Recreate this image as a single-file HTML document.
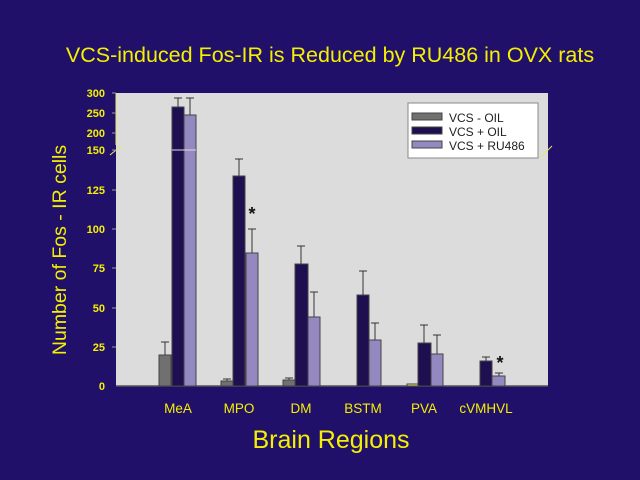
<!DOCTYPE html>
<html><head><meta charset="utf-8"><style>
html,body{margin:0;padding:0;background:#20106a;}
svg{display:block}
text{font-family:"Liberation Sans",sans-serif}
</style></head><body>
<svg width="640" height="480" viewBox="0 0 640 480" xmlns="http://www.w3.org/2000/svg">
<rect width="640" height="480" fill="#20106a"/>
<text x="330" y="62" fill="#f5f000" font-size="21.5" text-anchor="middle">VCS-induced Fos-IR is Reduced by RU486 in OVX rats</text>
<rect x="116" y="93" width="432" height="293" fill="#dcdcdc"/>
<line x1="116" y1="93" x2="116" y2="145" stroke="#e8e860" stroke-width="1"/>
<line x1="110" y1="155" x2="121" y2="146" stroke="#e8e860"/>
<line x1="541" y1="157" x2="552" y2="146" stroke="#e8e860"/>
<line x1="116" y1="386" x2="548" y2="386" stroke="#555" stroke-width="1.5"/>
<g stroke="#999" stroke-width="1">
<line x1="112" y1="93" x2="116" y2="93"/><line x1="112" y1="113" x2="116" y2="113"/><line x1="112" y1="133" x2="116" y2="133"/><line x1="112" y1="150" x2="116" y2="150"/>
<line x1="112" y1="190" x2="116" y2="190"/><line x1="112" y1="229" x2="116" y2="229"/><line x1="112" y1="268" x2="116" y2="268"/><line x1="112" y1="308" x2="116" y2="308"/><line x1="112" y1="347" x2="116" y2="347"/>
</g>
<g fill="#f5f000" font-size="11" font-weight="bold" text-anchor="end">
<text x="105" y="97">300</text><text x="105" y="117">250</text><text x="105" y="137">200</text><text x="105" y="154">150</text>
<text x="105" y="194">125</text><text x="105" y="233">100</text><text x="105" y="272">75</text><text x="105" y="312">50</text><text x="105" y="351">25</text><text x="105" y="390">0</text>
</g>
<text transform="translate(66,250) rotate(-90)" fill="#f5f000" font-size="19.5" text-anchor="middle">Number of Fos - IR cells</text>
<g stroke="#333" stroke-width="1">
<path d="M165 355V342M161 342H169"/>
<path d="M178 107V98M174 98H182"/>
<path d="M190 115V98M186 98H194"/>
<path d="M227 381V379M223 379H231"/>
<path d="M239 176V159M235 159H243"/>
<path d="M252 253V229M248 229H256"/>
<path d="M289 380V378M285 378H293"/>
<path d="M301 264V246M297 246H305"/>
<path d="M314 317V292M310 292H318"/>
<path d="M363 295V271M359 271H367"/>
<path d="M375 340V323M371 323H379"/>
<path d="M424 343V325M420 325H428"/>
<path d="M437 354V335M433 335H441"/>
<path d="M486 361V357M482 357H490"/>
<path d="M499 376V373M495 373H503"/>
</g>
<g stroke="#444" stroke-width="1">
<rect x="159" y="355" width="12" height="31" fill="#707070"/>
<rect x="172" y="107" width="12" height="279" fill="#1e1050"/>
<rect x="184" y="115" width="12" height="271" fill="#9488c0"/>
<rect x="221" y="381" width="12" height="5" fill="#707070"/>
<rect x="233" y="176" width="12" height="210" fill="#1e1050"/>
<rect x="246" y="253" width="12" height="133" fill="#9488c0"/>
<rect x="283" y="380" width="12" height="6" fill="#707070"/>
<rect x="295" y="264" width="13" height="122" fill="#1e1050"/>
<rect x="308" y="317" width="12" height="69" fill="#9488c0"/>
<rect x="357" y="295" width="12" height="91" fill="#1e1050"/>
<rect x="369" y="340" width="12" height="46" fill="#9488c0"/>
<rect x="407" y="384" width="11" height="2" fill="#e8e060"/>
<rect x="418" y="343" width="13" height="43" fill="#1e1050"/>
<rect x="431" y="354" width="12" height="32" fill="#9488c0"/>
<rect x="480" y="361" width="12" height="25" fill="#1e1050"/>
<rect x="492" y="376" width="13" height="10" fill="#9488c0"/>
</g>
<line x1="172" y1="150" x2="196" y2="150" stroke="#ddd" stroke-width="1"/>
<text x="252" y="220" font-size="18" font-weight="bold" fill="#111" text-anchor="middle">*</text>
<text x="500" y="369" font-size="18" font-weight="bold" fill="#111" text-anchor="middle">*</text>
<rect x="408" y="103" width="130" height="55" fill="#fff" stroke="#888"/>
<rect x="412" y="113" width="30" height="7" fill="#707070" stroke="#444"/>
<rect x="412" y="127" width="30" height="7" fill="#1e1050" stroke="#444"/>
<rect x="412" y="141" width="30" height="7" fill="#9488c0" stroke="#444"/>
<g font-size="12" fill="#222">
<text x="449" y="122">VCS -  OIL</text><text x="449" y="136">VCS + OIL</text><text x="449" y="150">VCS + RU486</text>
</g>
<g fill="#f5f000" font-size="13.5" text-anchor="middle">
<text x="178" y="413">MeA</text><text x="239" y="413">MPO</text><text x="301" y="413">DM</text><text x="363" y="413">BSTM</text><text x="424" y="413">PVA</text><text x="486" y="413">cVMHVL</text>
</g>
<text x="331" y="448" fill="#f5f000" font-size="25" text-anchor="middle">Brain Regions</text>
</svg>
</body></html>
